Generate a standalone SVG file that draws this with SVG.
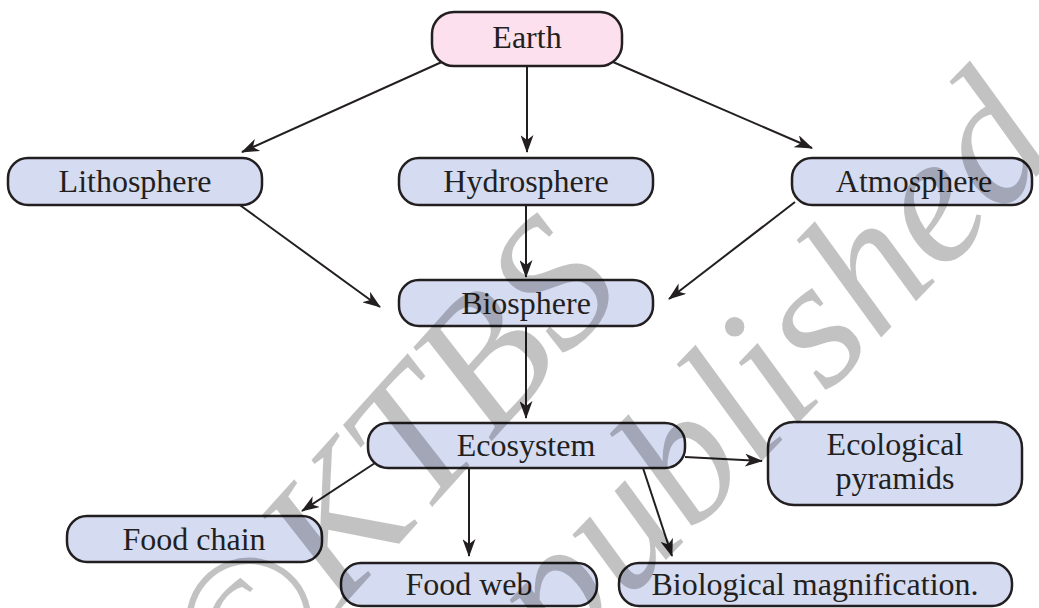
<svg xmlns="http://www.w3.org/2000/svg" width="1039" height="608" viewBox="0 0 1039 608">
  <style>
    .box { fill: #d5dbf1; stroke: #231f20; stroke-width: 2.5; }
    .root { fill: #fde0ee; stroke: #231f20; stroke-width: 2.5; }
    .lbl { font-family: "Liberation Serif", "Times New Roman", serif; font-size: 32px; fill: #231f20; text-anchor: middle; }
    .edge { stroke: #231f20; stroke-width: 2; fill: none; marker-end: url(#arrow); }
    .mark { font-family: "Liberation Serif", "Times New Roman", serif; font-style: italic; font-size: 185px; fill: #000; fill-opacity: 0.24; }
  </style>
  <defs>
    <marker id="arrow" viewBox="0 0 18 13" refX="17" refY="6.5" markerWidth="18" markerHeight="13" orient="auto" markerUnits="userSpaceOnUse">
      <path d="M0,0 L18,6.5 L0,13 L5,6.5 z" fill="#231f20"/>
    </marker>
  </defs>

  <rect width="1039" height="608" fill="#ffffff"/>

  <!-- connectors -->
  <g id="connectors">
    <line class="edge" x1="444" y1="61" x2="242" y2="152"/>
    <line class="edge" x1="527" y1="66" x2="527" y2="152"/>
    <line class="edge" x1="613" y1="62" x2="812" y2="148"/>
    <line class="edge" x1="237" y1="203" x2="380" y2="307"/>
    <line class="edge" x1="526" y1="206" x2="526" y2="277"/>
    <line class="edge" x1="795" y1="202" x2="669" y2="299"/>
    <line class="edge" x1="526" y1="327" x2="526" y2="418"/>
    <line class="edge" x1="375" y1="463" x2="302" y2="511"/>
    <line class="edge" x1="469" y1="468" x2="469" y2="556"/>
    <line class="edge" x1="685" y1="457" x2="762" y2="461"/>
    <line class="edge" x1="643" y1="468" x2="672" y2="556"/>
  </g>

  <!-- nodes -->
  <g id="earth">
    <rect class="root" x="432" y="12" width="190" height="54" rx="22"/>
    <text class="lbl" x="527" y="48">Earth</text>
  </g>
  <g id="lithosphere">
    <rect class="box" x="8" y="158" width="254" height="47" rx="20"/>
    <text class="lbl" x="135" y="192">Lithosphere</text>
  </g>
  <g id="hydrosphere">
    <rect class="box" x="399" y="158" width="254" height="47" rx="20"/>
    <text class="lbl" x="526" y="192">Hydrosphere</text>
  </g>
  <g id="atmosphere">
    <rect class="box" x="792" y="158" width="240" height="47" rx="20"/>
    <text class="lbl" x="914" y="192">Atmosphere</text>
  </g>
  <g id="biosphere">
    <rect class="box" x="399" y="280" width="254" height="46" rx="20"/>
    <text class="lbl" x="526" y="314">Biosphere</text>
  </g>
  <g id="ecosystem">
    <rect class="box" x="368" y="423" width="317" height="45" rx="20"/>
    <text class="lbl" x="526" y="456">Ecosystem</text>
  </g>
  <g id="ecological-pyramids">
    <rect class="box" x="768" y="422" width="254" height="83" rx="26"/>
    <text class="lbl" x="895" y="455">Ecological</text>
    <text class="lbl" x="895" y="489">pyramids</text>
  </g>
  <g id="food-chain">
    <rect class="box" x="67" y="516" width="255" height="46" rx="20"/>
    <text class="lbl" x="194" y="550">Food chain</text>
  </g>
  <g id="food-web">
    <rect class="box" x="341" y="563" width="256" height="43" rx="20"/>
    <text class="lbl" x="469" y="595">Food web</text>
  </g>
  <g id="biological-magnification">
    <rect class="box" x="619" y="563" width="393" height="43" rx="20"/>
    <text class="lbl" x="815" y="595">Biological magnification.</text>
  </g>

  <!-- copyright watermark -->
  <g id="watermark">
    <text class="mark" transform="translate(245 715) rotate(-48)">©KTBS</text>
    <text class="mark" text-anchor="end" transform="translate(1062 150) rotate(-46)">republished</text>
  </g>
</svg>
